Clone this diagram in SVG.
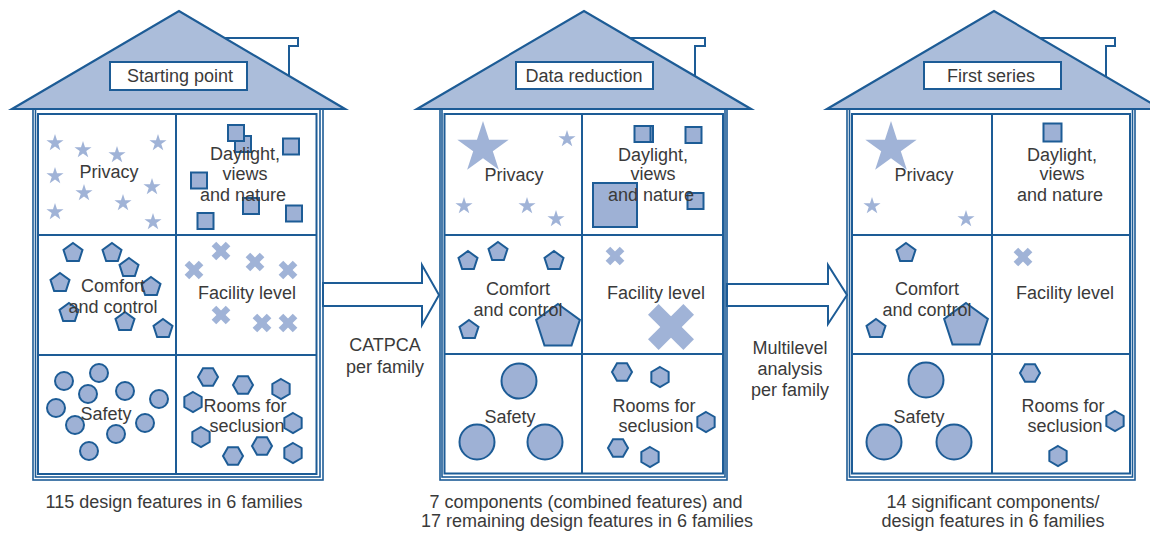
<svg xmlns="http://www.w3.org/2000/svg" width="1150" height="533" viewBox="0 0 1150 533">
<style>
.ln{fill:none;stroke:#1d5c96;stroke-width:2}
.fr{fill:none;stroke:#1d5c96;stroke-width:1.6}
.roof{fill:#abbdda;stroke:#1d5c96;stroke-width:2.2;stroke-linejoin:miter}
.wh{fill:#fff;stroke:#1d5c96;stroke-width:2}
.sh{fill:#9eb1d5;stroke:#1d5c96;stroke-width:2}
.lt{fill:#a0b3d7}
text{font-family:"Liberation Sans",Arial,sans-serif;font-size:18px;fill:#3a3a3a;text-anchor:middle}
</style>
<defs>
<polygon id="ss" class="lt" points="0,-9 2.02,-2.78 8.56,-2.78 3.27,1.06 5.29,7.28 0,3.44 -5.29,7.28 -3.27,1.06 -8.56,-2.78 -2.02,-2.78"/>
<polygon id="sb" class="lt" points="0,-27 6.06,-8.34 25.68,-8.34 9.81,3.18 15.87,21.84 0,10.32 -15.87,21.84 -9.81,3.18 -25.68,-8.34 -6.06,-8.34"/>
<polygon id="ps" class="sh" points="0,-10 9.51,-3.09 5.88,8.09 -5.88,8.09 -9.51,-3.09"/>
<polygon id="pb" class="sh" points="0,-23 21.87,-7.11 13.52,18.61 -13.52,18.61 -21.87,-7.11"/>
<polygon id="hp" class="sh" points="0,-10 8.66,-5 8.66,5 0,10 -8.66,5 -8.66,-5"/>
<polygon id="hf" class="sh" points="10,0 5,8.66 -5,8.66 -10,0 -5,-8.66 5,-8.66"/>
<rect id="q" class="sh" x="-8" y="-8" width="16" height="16"/>
<rect id="qm" class="sh" x="-9" y="-9" width="18" height="18"/>
<rect id="qb" class="sh" x="-22" y="-22" width="44" height="44"/>
<circle id="cs" class="sh" r="9"/>
<circle id="cb" class="sh" r="17.5"/>
<g id="xs" class="lt" transform="rotate(45)"><rect x="-10" y="-3.25" width="20" height="6.5"/><rect x="-3.25" y="-10" width="6.5" height="20"/></g>
<g id="xb" class="lt" transform="rotate(45)"><rect x="-25" y="-7.5" width="50" height="15"/><rect x="-7.5" y="-25" width="15" height="50"/></g>
</defs>

<g id="house-starting-point">
<polygon class="wh" points="219,38 298,38 298,46 289,46 289,100 219,100"/>
<polygon class="roof" points="12,109 179,11 345,109"/>
<rect class="wh" x="110" y="62" width="137" height="28"/>
<text x="180" y="82">Starting point</text>
<rect class="fr" x="33" y="109" width="290" height="371"/>
<rect class="fr" x="35.5" y="109" width="284.5" height="368"/>
<rect class="ln" x="38" y="114" width="278.5" height="360"/>
<line class="ln" x1="176" y1="114" x2="176" y2="474"/>
<line class="ln" x1="38" y1="235" x2="316.5" y2="235"/>
<line class="ln" x1="38" y1="355" x2="316.5" y2="355"/>
<g id="h1-privacy">
<use href="#ss" x="55" y="143"/><use href="#ss" x="83" y="150"/><use href="#ss" x="117" y="155"/><use href="#ss" x="158" y="143"/>
<use href="#ss" x="55" y="176"/><use href="#ss" x="84" y="193"/><use href="#ss" x="152" y="187"/><use href="#ss" x="123" y="203"/>
<use href="#ss" x="55" y="212"/><use href="#ss" x="153" y="222"/>
<text x="109" y="178">Privacy</text>
</g>
<g id="h1-daylight">
<use href="#q" x="243" y="144"/><use href="#q" x="236" y="133"/><use href="#q" x="291" y="146.5"/><use href="#q" x="199" y="180.5"/>
<use href="#q" x="251" y="206"/><use href="#q" x="294" y="213.5"/><use href="#q" x="205.5" y="221"/>
<text x="245" y="160">Daylight,</text><text x="245" y="180">views</text><text x="243" y="201">and nature</text>
</g>
<g id="h1-comfort">
<use href="#ps" x="73" y="253"/><use href="#ps" x="112" y="253"/><use href="#ps" x="129" y="268"/><use href="#ps" x="60" y="283"/>
<use href="#ps" x="151" y="287"/><use href="#ps" x="69" y="313"/><use href="#ps" x="125" y="322"/><use href="#ps" x="163" y="329"/>
<text x="113" y="292">Comfort</text><text x="113" y="313">and control</text>
</g>
<g id="h1-facility">
<use href="#xs" x="194" y="270"/><use href="#xs" x="221" y="251"/><use href="#xs" x="255" y="262"/><use href="#xs" x="288" y="270"/>
<use href="#xs" x="221" y="315"/><use href="#xs" x="262" y="323"/><use href="#xs" x="288" y="323"/>
<text x="247" y="299">Facility level</text>
</g>
<g id="h1-safety">
<use href="#cs" x="64" y="381"/><use href="#cs" x="99" y="373"/><use href="#cs" x="88" y="394"/><use href="#cs" x="125" y="391"/>
<use href="#cs" x="159" y="399"/><use href="#cs" x="56" y="408"/><use href="#cs" x="75" y="425"/><use href="#cs" x="116" y="434"/>
<use href="#cs" x="145" y="423"/><use href="#cs" x="89" y="451"/>
<text x="106" y="420">Safety</text>
</g>
<g id="h1-rooms">
<use href="#hf" x="208" y="377"/><use href="#hf" x="243" y="385"/><use href="#hp" x="281" y="389"/><use href="#hp" x="193" y="402"/>
<use href="#hp" x="293" y="423"/><use href="#hp" x="201" y="437"/><use href="#hf" x="262" y="446"/><use href="#hf" x="233" y="456"/>
<use href="#hp" x="293" y="453"/>
<text x="245" y="412">Rooms for</text><text x="247" y="432">seclusion</text>
</g>
<text x="174" y="508">115 design features in 6 families</text>
</g>

<g id="house-data-reduction">
<polygon class="wh" points="625,38 705,38 705,46 695,46 695,100 625,100"/>
<polygon class="roof" points="417,109 584,11 751,109"/>
<rect class="wh" x="516" y="62" width="137" height="27"/>
<text x="584" y="82">Data reduction</text>
<rect class="fr" x="440" y="109" width="287" height="371"/>
<rect class="fr" x="442" y="109" width="283" height="368"/>
<rect class="ln" x="444.5" y="114" width="278.5" height="359.5"/>
<line class="ln" x1="582" y1="114" x2="582" y2="473.5"/>
<line class="ln" x1="444.5" y1="235" x2="723" y2="235"/>
<line class="ln" x1="444.5" y1="354" x2="723" y2="354"/>
<g id="h2-privacy">
<use href="#sb" x="483" y="148"/>
<use href="#ss" x="567" y="139"/><use href="#ss" x="464" y="206"/><use href="#ss" x="527" y="206"/><use href="#ss" x="556" y="219"/>
<text x="514" y="181">Privacy</text>
</g>
<g id="h2-daylight">
<use href="#q" x="645" y="134"/><use href="#q" x="642.5" y="134"/><use href="#q" x="693.5" y="135"/><use href="#q" x="695.5" y="201"/>
<use href="#qb" x="615" y="205"/>
<text x="653" y="161">Daylight,</text><text x="653" y="180">views</text><text x="651" y="201">and nature</text>
</g>
<g id="h2-comfort">
<use href="#ps" x="468" y="261"/><use href="#ps" x="498" y="252"/><use href="#ps" x="554" y="261"/><use href="#ps" x="469" y="330"/>
<use href="#pb" x="558" y="327"/>
<text x="518" y="295">Comfort</text><text x="518" y="316">and control</text>
</g>
<g id="h2-facility">
<use href="#xs" x="615" y="256"/><use href="#xb" x="671" y="327"/>
<text x="656" y="299">Facility level</text>
</g>
<g id="h2-safety">
<use href="#cb" x="519" y="381"/><use href="#cb" x="477" y="442"/><use href="#cb" x="545" y="442"/>
<text x="510" y="423">Safety</text>
</g>
<g id="h2-rooms">
<use href="#hf" x="622" y="372"/><use href="#hp" x="660" y="377"/><use href="#hp" x="706" y="422"/><use href="#hf" x="618" y="448"/>
<use href="#hp" x="650" y="457"/>
<text x="654" y="412">Rooms for</text><text x="656" y="432">seclusion</text>
</g>
<text x="586" y="508">7 components (combined features) and</text>
<text x="587" y="527">17 remaining design features in 6 families</text>
</g>

<g id="house-first-series">
<polygon class="wh" points="1035,38 1115,38 1115,46 1106,46 1106,100 1035,100"/>
<polygon class="roof" points="827,109 994,11 1161,109"/>
<rect class="wh" x="924" y="62" width="137" height="27"/>
<text x="991" y="82">First series</text>
<rect class="fr" x="847" y="109" width="288" height="371"/>
<rect class="fr" x="849.5" y="109" width="283" height="368"/>
<rect class="ln" x="852" y="114" width="278" height="359.5"/>
<line class="ln" x1="992" y1="114" x2="992" y2="473.5"/>
<line class="ln" x1="852" y1="235" x2="1130" y2="235"/>
<line class="ln" x1="852" y1="354" x2="1130" y2="354"/>
<g id="h3-privacy">
<use href="#sb" x="891" y="148"/>
<use href="#ss" x="872" y="206"/><use href="#ss" x="966" y="219"/>
<text x="924" y="181">Privacy</text>
</g>
<g id="h3-daylight">
<use href="#qm" x="1052.5" y="132.5"/>
<text x="1062" y="161">Daylight,</text><text x="1062" y="180">views</text><text x="1060" y="201">and nature</text>
</g>
<g id="h3-comfort">
<use href="#ps" x="906" y="253"/><use href="#ps" x="876" y="329"/>
<use href="#pb" x="966" y="326"/>
<text x="927" y="295">Comfort</text><text x="927" y="316">and control</text>
</g>
<g id="h3-facility">
<use href="#xs" x="1023" y="257"/>
<text x="1065" y="299">Facility level</text>
</g>
<g id="h3-safety">
<use href="#cb" x="926" y="380"/><use href="#cb" x="884" y="442"/><use href="#cb" x="954" y="442"/>
<text x="919" y="423">Safety</text>
</g>
<g id="h3-rooms">
<use href="#hf" x="1030" y="373"/><use href="#hp" x="1115" y="421"/><use href="#hp" x="1058" y="456"/>
<text x="1063" y="412">Rooms for</text><text x="1065" y="432">seclusion</text>
</g>
<text x="993" y="508">14 significant components/</text>
<text x="993" y="527">design features in 6 families</text>
</g>

<g id="connectors">
<polygon class="wh" points="323,283 422,283 422,265 439,295 422,325 422,306 323,306"/>
<polygon class="wh" points="727,284 828,284 828,265 847,295 828,324 828,306 727,306"/>
<text x="385" y="351">CATPCA</text>
<text x="385" y="373">per family</text>
<text x="790" y="354">Multilevel</text>
<text x="790" y="375">analysis</text>
<text x="790" y="396">per family</text>
</g>
</svg>
